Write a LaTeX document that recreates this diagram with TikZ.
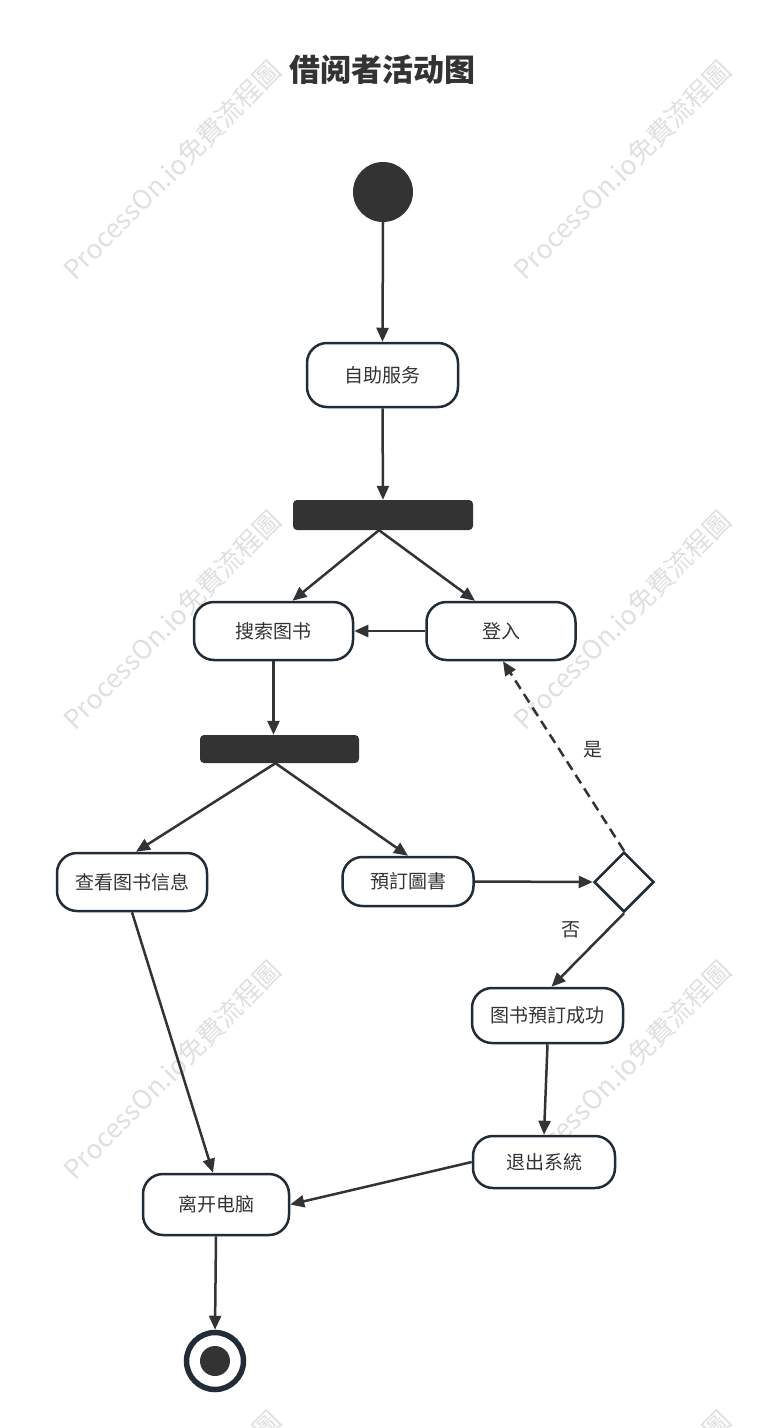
\documentclass[tikz,border=0pt]{standalone}
\usepackage{fontspec}
\setmainfont{Noto Sans CJK SC}
\usetikzlibrary{shapes.geometric,arrows.meta}
\definecolor{ink}{HTML}{333333}
\definecolor{edge}{HTML}{222C36}
\definecolor{wm}{RGB}{224,224,224}
\begin{document}
\begin{tikzpicture}[x=1pt,y=-1pt,
  box/.style={draw=edge, line width=2.5pt, rounded corners=20pt, fill=white,
    align=center, text=ink, font=\fontsize{19}{21}\selectfont, inner sep=0pt},
  bar/.style={fill=ink, rounded corners=4pt, inner sep=0pt},
  arr/.style={draw=ink, line width=2.5pt, -{Triangle[length=14pt,width=12pt]}},
  lbl/.style={text=ink, font=\fontsize{19}{21}\selectfont, inner sep=0pt},
  wmark/.style={text=wm, rotate=45, font=\fontsize{26.5}{28}\selectfont, inner sep=0pt}
]
\useasboundingbox (0,0) rectangle (765,1428);
\fill[white] (0,0) rectangle (765,1428);
% watermarks
\begin{scope}
\clip (0,0) rectangle (765,1428);
\foreach \wy [count=\i] in {170,620,1070,1520}{
  \node[wmark] (wmL\i) at (172,\wy) {ProcessOn.io免費流程圖};
  \node[wmark] (wmR\i) at (622,\wy) {ProcessOn.io免費流程圖};
}
\end{scope}
% title
\node[text=ink, font=\fontsize{31}{33}\selectfont\bfseries, inner sep=0pt] (title) at (382,70) {借阅者活动图};
% nodes
\node[circle, fill=ink, minimum size=60pt, inner sep=0pt] (start) at (383,192) {};
\node[box, minimum width=151pt, minimum height=64pt] (zizhu) at (382.5,375) {自助服务};
\node[bar, minimum width=180pt, minimum height=30pt] (bar1) at (383,515) {};
\node[box, minimum width=159pt, minimum height=58pt] (search) at (273.5,631) {搜索图书};
\node[box, minimum width=149pt, minimum height=58pt] (login) at (501,631) {登入};
\node[bar, minimum width=159pt, minimum height=28pt] (bar2) at (279.5,749) {};
\node[box, minimum width=150pt, minimum height=58pt] (view) at (132,882) {查看图书信息};
\node[box, minimum width=131pt, minimum height=49pt] (reserve) at (408,881.5) {預訂圖書};
\node[diamond, draw=edge, line width=2.5pt, fill=white, minimum width=60pt, minimum height=60pt, inner sep=0pt] (dec) at (624,882) {};
\node[box, minimum width=151pt, minimum height=55pt] (success) at (547.5,1015.5) {图书預訂成功};
\node[box, minimum width=142pt, minimum height=52pt] (exit) at (544,1162) {退出系統};
\node[box, minimum width=146pt, minimum height=61pt] (leave) at (216,1204.5) {离开电脑};
\node[circle, draw=edge, line width=5.5pt, fill=white, minimum size=57pt, inner sep=0pt] (end) at (215,1361) {};
\node[circle, fill=ink, minimum size=30pt, inner sep=0pt] (endin) at (215,1361) {};
% connectors
\draw[arr] (start.south) -- (zizhu.north);
\draw[arr] (zizhu.south) -- (bar1.north);
\draw[arr] ([xshift=-4pt]bar1.south) -- ([xshift=19pt]search.north);
\draw[arr] ([xshift=-4pt]bar1.south) -- ([xshift=-26pt]login.north);
\draw[arr] (login.west) -- (search.east);
\draw[arr] (search.south) -- (search.south |- bar2.north);
\draw[arr] ([xshift=-4pt]bar2.south) -- ([xshift=4pt]view.north);
\draw[arr] ([xshift=-4pt]bar2.south) -- (reserve.north);
\draw[arr] (reserve.east) -- (dec.west);
\draw[arr, dashed, dash pattern=on 10pt off 6pt] (dec.north) -- ([xshift=2pt]login.south);
\draw[arr] (dec.south) -- ([xshift=4pt]success.north);
\draw[arr] (success.south) -- (exit.north);
\draw[arr] (exit.west) -- (leave.east);
\draw[arr] (view.south) -- ([xshift=-3pt]leave.north);
\draw[arr] (leave.south) -- (end.north);
% labels
\node[lbl] (yes) at (593,750) {是};
\node[lbl] (no) at (571,930) {否};
\end{tikzpicture}
\end{document}
